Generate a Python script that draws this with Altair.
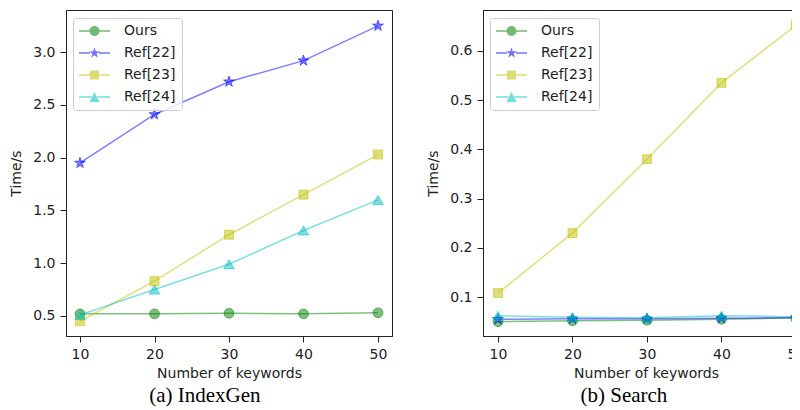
import altair as alt
import pandas as pd

# ---------------- data ----------------
keywords = [10, 20, 30, 40, 50]
series = ["Ours", "Ref[22]", "Ref[23]", "Ref[24]"]

idx_ours = [0.52, 0.52, 0.525, 0.52, 0.53]
idx_ref22 = [1.95, 2.41, 2.72, 2.92, 3.25]
idx_ref23 = [0.45, 0.83, 1.27, 1.65, 2.03]
idx_ref24 = [0.51, 0.75, 0.99, 1.31, 1.60]

srch_ours = [0.050, 0.052, 0.053, 0.055, 0.058]
srch_ref22 = [0.055, 0.056, 0.056, 0.057, 0.058]
srch_ref23 = [0.108, 0.230, 0.380, 0.535, 0.652]
srch_ref24 = [0.062, 0.059, 0.058, 0.062, 0.060]

idx_ticks = [0.5, 1.0, 1.5, 2.0, 2.5, 3.0]
srch_ticks = [0.1, 0.2, 0.3, 0.4, 0.5, 0.6]

# ---------------- style ----------------
colors = ["#008000", "#0000ff", "#bfbf00", "#00bfbf"]
STAR = ("M0,-1L0.2245,-0.309L0.9511,-0.309L0.3633,0.118L0.5878,0.809L0,0.382"
        "L-0.5878,0.809L-0.3633,0.118L-0.9511,-0.309L-0.2245,-0.309Z")
marker_shapes = ["circle", STAR, "square", "triangle-up"]
marker_sizes = [95, 130, 80, 110]


def star_path(cx, s):
    pts = [(0, -1), (0.2245, -0.309), (0.9511, -0.309), (0.3633, 0.118), (0.5878, 0.809),
           (0, 0.382), (-0.5878, 0.809), (-0.3633, 0.118), (-0.9511, -0.309), (-0.2245, -0.309)]
    return "M" + "L".join(f"{cx + s * px:.3f},{s * py:.3f}" for px, py in pts) + "Z"


def legend_symbol(kind):
    cx = 1.7
    half = 3.1
    h = 0.15
    if kind == "circle":
        m = f"M{cx + 1},0A1,1,0,1,1,{cx - 1},0A1,1,0,1,1,{cx + 1},0Z"
        r = 1.0
    elif kind == "star":
        m = star_path(cx, 1.15)
        r = 0.9
    elif kind == "square":
        m = f"M{cx - 0.9},-0.9H{cx + 0.9}V0.9H{cx - 0.9}Z"
        r = 0.9
    else:
        m = f"M{cx},-1L{cx + 1},1L{cx - 1},1Z"
        r = 0.6
    left = f"M{cx - half},-{h}H{cx - r}V{h}H{cx - half}Z"
    right = f"M{cx + r},-{h}H{cx + half}V{h}H{cx + r}Z"
    return left + right + m


legend_paths = [legend_symbol(k) for k in ["circle", "star", "square", "triangle"]]

color_scale = alt.Scale(domain=series, range=colors)


def make_df(vals):
    rows = []
    for name, v in zip(series, vals):
        for k, t in zip(keywords, v):
            rows.append({"keywords": k, "time": t, "series": name})
    return pd.DataFrame(rows)


def panel(df, ydom, yticks, xdom, width, caption, cap_dx):
    x = alt.X("keywords:Q", scale=alt.Scale(domain=xdom, nice=False, zero=False),
              axis=alt.Axis(values=keywords, title="Number of keywords", format="d"))
    y = alt.Y("time:Q", scale=alt.Scale(domain=ydom, nice=False, zero=False),
              axis=alt.Axis(values=yticks, title="Time/s", format=".1f"))
    layers = []
    for name, c, shp, sz in zip(series, colors, marker_shapes, marker_sizes):
        sub = alt.Chart(df).transform_filter(alt.datum.series == name)
        layers.append(sub.mark_line(strokeWidth=1.5, strokeOpacity=0.5, color=c).encode(x=x, y=y))
        layers.append(
            sub.mark_point(
                shape=shp, filled=True, size=sz, fill=c, stroke=c,
                fillOpacity=0.5, strokeOpacity=0.55, strokeWidth=1
            ).encode(x=x, y=y)
        )
    leg = alt.Legend(title=None, orient="none", legendX=7, legendY=8)
    legend_layer = alt.Chart(df).mark_point(filled=True, opacity=0).encode(
        x=x, y=y,
        color=alt.Color("series:N", scale=color_scale, legend=leg),
        shape=alt.Shape("series:N", scale=alt.Scale(domain=series, range=legend_paths), legend=leg),
    )
    layers.append(legend_layer)
    return alt.layer(*layers).properties(
        width=width, height=326,
        title=alt.TitleParams(caption, orient="bottom", font="Liberation Serif", fontSize=21,
                              fontWeight="normal", color="black", anchor="middle",
                              frame="bounds", offset=5, dx=cap_dx),
    )


left = panel(make_df([idx_ours, idx_ref22, idx_ref23, idx_ref24]), [0.31, 3.40], idx_ticks,
             [8.12, 51.88], 326, "(a) IndexGen", 4)
right = panel(make_df([srch_ours, srch_ref22, srch_ref23, srch_ref24]), [0.021, 0.683], srch_ticks,
              [7.99, 51.75], 326, "(b) Search", 6)

chart = alt.hconcat(left, right, spacing=33).resolve_scale(
    x="independent", y="independent", color="independent", shape="independent"
).resolve_legend(color="independent", shape="independent").properties(
    padding={"left": 1, "top": 1, "right": -18, "bottom": 0}
).configure_view(stroke="#222222", strokeWidth=1).configure_axis(
    labelFont="DejaVu Sans", labelFontSize=14, labelColor="#222222",
    titleFont="DejaVu Sans", titleFontSize=14, titleFontWeight="normal", titleColor="#222222",
    tickColor="#222222", domainColor="#222222", tickSize=6, labelPadding=5, grid=False,
).configure_axisY(titlePadding=9).configure_axisX(titlePadding=5).configure_legend(
    labelFont="DejaVu Sans", labelFontSize=14, labelColor="#222222",
    symbolSize=100, symbolOpacity=0.55, symbolStrokeWidth=0,
    padding=6, labelOffset=31, rowPadding=8,
    fillColor="rgba(255,255,255,0.8)", strokeColor="#cccccc", cornerRadius=3,
)

chart.save("out.html", embed_options={"renderer": "svg", "actions": False})
